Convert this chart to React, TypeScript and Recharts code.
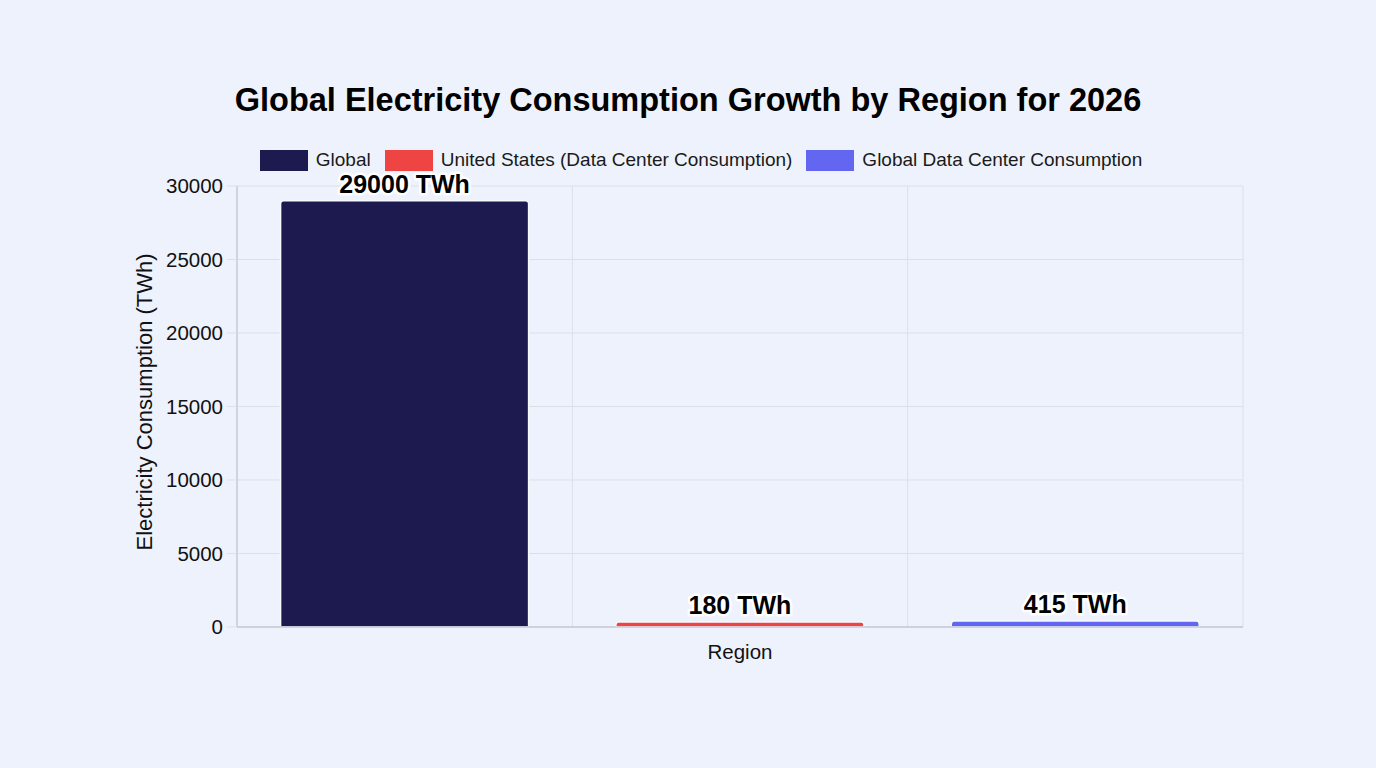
import React from 'react';
import { BarChart, Bar, XAxis, YAxis, CartesianGrid, Cell, LabelList } from 'recharts';

const regions = ['Global', 'United States (Data Center Consumption)', 'Global Data Center Consumption'];
const consumptionTWh = [29000, 180, 415];
const barColors = ['#1c1a4f', '#ef4444', '#6366f1'];
const yTicks = [0, 5000, 10000, 15000, 20000, 25000, 30000];

const chartTitle = 'Global Electricity Consumption Growth by Region for 2026';
const yAxisTitle = 'Electricity Consumption (TWh)';
const xAxisTitle = 'Region';

const rows = regions.map((region, i) => ({ region, value: consumptionTWh[i] }));

const FONT = '"Liberation Sans", Arial, Helvetica, sans-serif';
const GRID = '#dcdfe8';

const LegendRow = () => (
  <div
    style={{
      position: 'absolute',
      left: 0,
      top: 149,
      width: 1376,
      display: 'flex',
      justifyContent: 'center',
      alignItems: 'center',
      fontFamily: FONT,
      fontSize: 19,
      color: '#1a1a1a',
      paddingLeft: 26,
      boxSizing: 'border-box',
    }}
  >
    {regions.map((r, i) => (
      <div key={r} style={{ display: 'flex', alignItems: 'center', marginRight: i < regions.length - 1 ? 14 : 0 }}>
        <span
          style={{
            display: 'inline-block',
            width: 48,
            height: 21,
            background: barColors[i],
            marginRight: 8,
          }}
        />
        <span>{r}</span>
      </div>
    ))}
  </div>
);

export default function App() {
  return (
    <div
      style={{
        position: 'fixed',
        left: 0,
        top: 0,
        width: 1376,
        height: 768,
        background: '#eef2fc',
        fontFamily: FONT,
      }}
    >
      <div
        style={{
          position: 'absolute',
          left: 0,
          top: 82,
          width: 1376,
          textAlign: 'center',
          fontSize: 32.5,
          fontWeight: 'bold',
          color: '#000',
        }}
      >
        {chartTitle}
      </div>
      <LegendRow />
      <BarChart
        width={1376}
        height={768}
        data={rows}
        margin={{ top: 186, right: 133, bottom: 101, left: 147 }}
        barCategoryGap="13%"
        style={{ position: 'absolute', left: 0, top: 0 }}
      >
        <CartesianGrid
          stroke={GRID}
          verticalCoordinatesGenerator={({ offset }: any) => [
            offset.left + offset.width / 3,
            offset.left + (2 * offset.width) / 3,
            offset.left + offset.width,
          ]}
        />
        <XAxis
          dataKey="region"
          tick={false}
          tickLine={false}
          axisLine={{ stroke: '#c6cad4', strokeWidth: 1.5 }}
          height={40}
          label={{ value: xAxisTitle, position: 'insideBottom', offset: 8, fill: '#111', fontSize: 20.5, fontFamily: FONT }}
        />
        <YAxis
          width={90}
          domain={[0, 30000]}
          ticks={yTicks}
          interval={0}
          tickSize={10}
          tickMargin={4}
          tickLine={{ stroke: GRID }}
          axisLine={{ stroke: '#c6cad4', strokeWidth: 1.5 }}
          tick={{ fill: '#111', fontSize: 20.5, fontFamily: FONT }}
          label={{
            value: yAxisTitle,
            angle: -90,
            position: 'insideLeft',
            dx: -8,
            dy: 144,
            fill: '#111',
            fontSize: 22,
            fontFamily: FONT,
          }}
        />
        <Bar
          dataKey="value"
          isAnimationActive={false}
          stroke="#f8f9ff"
          strokeWidth={1.5}
          radius={[3, 3, 0, 0]}
          minPointSize={5}
        >
          {rows.map((r, i) => (
            <Cell key={r.region} fill={barColors[i]} />
          ))}
          <LabelList
            dataKey="value"
            position="top"
            offset={8}
            formatter={(v: any) => `${v} TWh`}
            style={{
              fontSize: 25,
              fontWeight: 'bold',
              fontFamily: FONT,
              fill: '#000',
              stroke: '#ffffff',
              strokeWidth: 5,
              paintOrder: 'stroke',
              strokeLinejoin: 'round',
            }}
          />
        </Bar>
      </BarChart>
    </div>
  );
}
